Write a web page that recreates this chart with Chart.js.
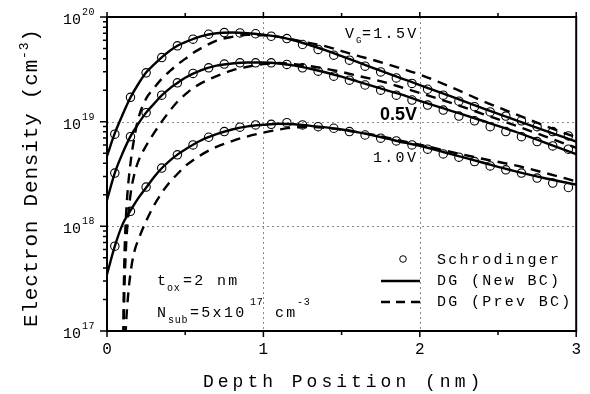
<!DOCTYPE html>
<html>
<head>
<meta charset="utf-8">
<script src="https://cdn.jsdelivr.net/npm/chart.js@4.4.1/dist/chart.umd.min.js"></script>
<style>
  html, body { margin: 0; padding: 0; background: #fff; }
</style>
</head>
<body>
<canvas id="chart" width="590" height="394"></canvas>
<script>
// Schrodinger solution (circles), depth in nm
const schX = [0.05, 0.15, 0.25, 0.35, 0.45, 0.55, 0.65, 0.75, 0.85, 0.95,
              1.05, 1.15, 1.25, 1.35, 1.45, 1.55, 1.65, 1.75, 1.85, 1.95,
              2.05, 2.15, 2.25, 2.35, 2.45, 2.55, 2.65, 2.75, 2.85, 2.95];
const schTop = [7.6e18, 1.71e19, 2.93e19, 4.1e19, 5.3e19, 6.14e19, 6.84e19, 7.1e19, 7.05e19, 6.92e19,
                6.55e19, 6.22e19, 5.46e19, 4.9e19, 4.32e19, 3.87e19, 3.39e19, 2.99e19, 2.62e19, 2.32e19,
                2.04e19, 1.79e19, 1.57e19, 1.39e19, 1.24e19, 1.13e19, 1.02e19, 8.95e18, 8.04e18, 7.31e18];
const schMid = [3.23e18, 7.19e18, 1.22e19, 1.79e19, 2.35e19, 2.89e19, 3.27e19, 3.55e19, 3.65e19, 3.65e19,
                3.65e19, 3.52e19, 3.27e19, 3.04e19, 2.72e19, 2.49e19, 2.24e19, 2.0e19, 1.79e19, 1.61e19,
                1.44e19, 1.29e19, 1.13e19, 1.02e19, 8.95e18, 8.04e18, 7.19e18, 6.46e18, 5.87e18, 5.46e18];
const schLow = [6.46e17, 1.39e18, 2.37e18, 3.6e18, 4.82e18, 6.0e18, 7.1e18, 8.04e18, 8.85e18, 9.31e18,
                9.44e18, 9.77e18, 9.31e18, 8.95e18, 8.65e18, 8.04e18, 7.46e18, 6.95e18, 6.55e18, 6.0e18,
                5.46e18, 4.92e18, 4.58e18, 4.16e18, 3.78e18, 3.47e18, 3.23e18, 2.89e18, 2.59e18, 2.35e18];

// DG with new boundary condition (solid)
const newX = [0, 0.05, 0.1, 0.15, 0.2, 0.25, 0.3, 0.35, 0.4, 0.45, 0.5, 0.6, 0.7, 0.8, 0.9, 1.0,
              1.1, 1.2, 1.3, 1.4, 1.5, 1.6, 1.7, 1.8, 1.9, 2.0, 2.2, 2.4, 2.6, 2.8, 3.0];
const newTop = [4.68e18, 7.76e18, 1.17e19, 1.70e19, 2.29e19, 2.95e19, 3.51e19, 4.12e19, 4.73e19, 5.31e19, 5.75e19,
                6.53e19, 7.0e19, 7.11e19, 7.0e19, 6.76e19, 6.46e19, 5.96e19, 5.37e19, 4.79e19, 4.22e19,
                3.72e19, 3.27e19, 2.88e19, 2.54e19, 2.24e19, 1.74e19, 1.35e19, 1.05e19, 8.22e18, 6.46e18];
const newMid = [1.78e18, 3.24e18, 5.01e18, 7.24e18, 9.55e18, 1.22e19, 1.48e19, 1.78e19, 2.07e19, 2.34e19, 2.63e19,
                3.09e19, 3.43e19, 3.59e19, 3.67e19, 3.67e19, 3.59e19, 3.43e19, 3.2e19, 2.95e19, 2.69e19,
                2.43e19, 2.19e19, 1.97e19, 1.78e19, 1.58e19, 1.27e19, 1.02e19, 8.13e18, 6.31e18, 4.9e18];
const newLow = [3.47e17, 6.46e17, 1.05e18, 1.41e18, 1.86e18, 2.34e18, 2.95e18, 3.59e18, 4.22e18, 4.84e18, 5.43e18,
                6.61e18, 7.59e18, 8.41e18, 9.02e18, 9.33e18, 9.55e18, 9.44e18, 9.12e18, 8.81e18, 8.41e18,
                7.94e18, 7.41e18, 6.84e18, 6.31e18, 5.89e18, 4.9e18, 4.07e18, 3.39e18, 2.88e18, 2.51e18];

// DG with previous boundary condition (dashed), density vanishes at ~0.1 nm
const prevX = [0.1, 0.105, 0.11, 0.12, 0.13, 0.15, 0.175, 0.2, 0.25, 0.3, 0.35, 0.4, 0.45, 0.5, 0.55, 0.6,
               0.7, 0.8, 0.9, 1.0, 1.1, 1.2, 1.3, 1.4, 1.5, 1.6, 1.7, 1.8, 1.9, 2.0, 2.2, 2.4, 2.6, 2.8, 3.0];
const prevTop = [1e15, 1.0e17, 3.98e17, 1.12e18, 2.0e18, 3.98e18, 7.08e18, 1.07e19, 1.66e19, 2.09e19, 2.57e19,
                 3.02e19, 3.51e19, 3.98e19, 4.52e19, 5.01e19, 5.96e19, 6.46e19, 6.76e19, 6.68e19, 6.46e19,
                 6.03e19, 5.62e19, 5.25e19, 4.73e19, 4.27e19, 3.89e19, 3.51e19, 3.16e19, 2.82e19, 2.14e19,
                 1.58e19, 1.2e19, 9.12e18, 7.08e18];
const prevMid = [1e15, 6.31e16, 2.0e17, 5.62e17, 1.0e18, 2.0e18, 3.16e18, 4.17e18, 5.89e18, 7.76e18, 1.0e19,
                 1.26e19, 1.55e19, 1.82e19, 2.09e19, 2.32e19, 2.72e19, 3.09e19, 3.35e19, 3.55e19, 3.63e19,
                 3.55e19, 3.39e19, 3.2e19, 2.99e19, 2.75e19, 2.54e19, 2.32e19, 2.09e19, 1.88e19, 1.51e19,
                 1.19e19, 9.33e18, 7.24e18, 5.62e18];
const prevLow = [1e15, 6.31e15, 3.16e16, 1.0e17, 1.78e17, 3.55e17, 5.75e17, 7.41e17, 1.12e18, 1.58e18, 2.09e18,
                 2.63e18, 3.16e18, 3.76e18, 4.27e18, 4.79e18, 5.75e18, 6.53e18, 7.24e18, 7.85e18, 8.41e18,
                 8.81e18, 8.91e18, 8.71e18, 8.41e18, 7.94e18, 7.5e18, 7.0e18, 6.46e18, 6.03e18, 5.13e18,
                 4.42e18, 3.85e18, 3.24e18, 2.69e18];

// axes
const xTicks = [0, 1, 2, 3];
const xMinor = [0.5, 1.5, 2.5];
const yTicks = [1e17, 1e18, 1e19, 1e20];
const yMinorMult = [2, 3, 4, 5, 6, 7, 8, 9];
const legendLabels = ['Schrodinger', 'DG (New BC)', 'DG (Prev BC)'];

const MONO = '"Liberation Mono", "DejaVu Sans Mono", monospace';

const pts = (xs, ys) => xs.map((x, i) => ({ x: x, y: ys[i] }));

function circles(label, ys) {
  return {
    label: label, data: pts(schX, ys), showLine: false,
    pointStyle: 'circle', pointRadius: 4.2, pointBorderWidth: 1.1,
    pointBorderColor: '#000', pointBackgroundColor: 'rgba(0,0,0,0)'
  };
}
function curve(label, xs, ys, dashed) {
  return {
    label: label, data: pts(xs, ys), showLine: true, pointRadius: 0,
    borderColor: '#000', borderWidth: 2.4, borderDash: dashed ? [10, 7] : [],
    cubicInterpolationMode: 'monotone', capBezierPoints: false, fill: false
  };
}

function text(ctx, s, x, y, size, ls, family, bold) {
  ctx.font = (bold ? 'bold ' : '') + size + 'px ' + (family || MONO);
  ctx.letterSpacing = (ls || 0) + 'px';
  ctx.fillText(s, x, y);
}

const decor = {
  id: 'decor',
  beforeDatasetsDraw(chart) {
    const { ctx, chartArea: a, scales: { x, y } } = chart;
    ctx.save();
    ctx.strokeStyle = '#8a8a8a';
    ctx.lineWidth = 1;
    ctx.setLineDash([2, 3]);
    ctx.beginPath();
    xTicks.slice(1, -1).forEach(v => {
      const px = Math.round(x.getPixelForValue(v)) + 0.5;
      ctx.moveTo(px, a.top); ctx.lineTo(px, a.bottom);
    });
    yTicks.slice(1, -1).forEach(v => {
      const py = Math.round(y.getPixelForValue(v)) + 0.5;
      ctx.moveTo(a.left, py); ctx.lineTo(a.right, py);
    });
    ctx.stroke();
    ctx.restore();
  },
  afterDraw(chart) {
    const { ctx, chartArea: a, scales: { x, y } } = chart;
    ctx.save();
    // frame
    ctx.strokeStyle = '#000';
    ctx.lineWidth = 2;
    ctx.strokeRect(a.left, a.top, a.right - a.left, a.bottom - a.top);
    // tick marks (outward)
    ctx.lineWidth = 1.5;
    ctx.beginPath();
    xTicks.forEach(v => {
      const px = x.getPixelForValue(v);
      ctx.moveTo(px, a.bottom); ctx.lineTo(px, a.bottom + 6);
      ctx.moveTo(px, a.top); ctx.lineTo(px, a.top - 5);
    });
    xMinor.forEach(v => {
      const px = x.getPixelForValue(v);
      ctx.moveTo(px, a.bottom); ctx.lineTo(px, a.bottom + 4);
      ctx.moveTo(px, a.top); ctx.lineTo(px, a.top - 4);
    });
    yTicks.forEach((v, i) => {
      const py = y.getPixelForValue(v);
      ctx.moveTo(a.left, py); ctx.lineTo(a.left - 7, py);
      if (i < yTicks.length - 1) {
        yMinorMult.forEach(m => {
          const qy = y.getPixelForValue(v * m);
          ctx.moveTo(a.left, qy); ctx.lineTo(a.left - 4, qy);
        });
      }
    });
    ctx.stroke();

    ctx.fillStyle = '#000';
    ctx.textBaseline = 'alphabetic';
    // y tick labels 10^n
    yTicks.forEach(v => {
      const py = y.getPixelForValue(v);
      ctx.textAlign = 'right';
      text(ctx, '10', 81, py + 7, 15, 0);
      ctx.textAlign = 'left';
      text(ctx, String(Math.round(Math.log10(v))), 82, py - 2, 10, 0.5);
    });
    ctx.textAlign = 'left';

    // axis titles
    text(ctx, 'Depth Position (nm)', 203, 387, 18, 4);
    ctx.save();
    ctx.translate(37, 327);
    ctx.rotate(-Math.PI / 2);
    text(ctx, 'Electron Density (cm', 0, 0, 21, 0.8);
    let w = ctx.measureText('Electron Density (cm').width;
    text(ctx, '-3', w, -9, 13, 0.8);
    const w2 = ctx.measureText('-3').width;
    text(ctx, ')', w + w2, 0, 21, 0.8);
    ctx.restore();

    // curve labels
    text(ctx, 'V', 345, 38, 15, 2.3);
    text(ctx, 'G', 356, 43, 9, 0);
    text(ctx, '=1.5V', 362, 38, 15, 2.3);
    text(ctx, '0.5V', 380, 120, 18, 0, '"Liberation Sans", Arial, sans-serif', true);
    text(ctx, '1.0V', 373, 162, 15, 2.3);

    // device parameters
    text(ctx, 't', 157, 285, 15, 2.3);
    text(ctx, 'ox', 167, 291, 10, 0.7);
    text(ctx, '=2 nm', 183, 285, 15, 2.3);
    text(ctx, 'N', 157, 317, 15, 2.3);
    text(ctx, 'sub', 168, 323, 10, 0.7);
    text(ctx, '=5x10', 190, 317, 15, 2.3);
    text(ctx, '17', 250, 305, 10, 0.7);
    text(ctx, 'cm', 275, 317, 15, 2.3);
    text(ctx, '-3', 297, 305, 10, 0.7);

    // legend
    ctx.lineWidth = 1;
    ctx.beginPath();
    ctx.arc(403, 259, 3.3, 0, Math.PI * 2);
    ctx.stroke();
    ctx.lineWidth = 2.4;
    ctx.beginPath();
    ctx.moveTo(381, 281); ctx.lineTo(420, 281);
    ctx.stroke();
    ctx.setLineDash([9, 6]);
    ctx.beginPath();
    ctx.moveTo(381, 302); ctx.lineTo(422, 302);
    ctx.stroke();
    ctx.setLineDash([]);
    text(ctx, legendLabels[0], 437, 264, 15, 2.3);
    text(ctx, legendLabels[1], 437, 285, 15, 2.3);
    text(ctx, legendLabels[2], 437, 306, 15, 2.3);
    ctx.restore();
  }
};

new Chart(document.getElementById('chart'), {
  type: 'scatter',
  data: {
    datasets: [
      circles('Schrodinger 1.5V', schTop),
      circles('Schrodinger 0.5V', schMid),
      circles('Schrodinger 1.0V', schLow),
      curve('DG (New BC) 1.5V', newX, newTop, false),
      curve('DG (New BC) 0.5V', newX, newMid, false),
      curve('DG (New BC) 1.0V', newX, newLow, false),
      curve('DG (Prev BC) 1.5V', prevX, prevTop, true),
      curve('DG (Prev BC) 0.5V', prevX, prevMid, true),
      curve('DG (Prev BC) 1.0V', prevX, prevLow, true)
    ]
  },
  options: {
    responsive: false,
    animation: false,
    layout: { padding: { top: 17, right: 11, left: 0, bottom: 0 } },
    plugins: { legend: { display: false }, tooltip: { enabled: false } },
    scales: {
      x: {
        type: 'linear', min: 0, max: 3,
        afterBuildTicks: s => { s.ticks = xTicks.map(v => ({ value: v })); },
        afterFit: s => { s.height = 63; },
        grid: { display: false, drawTicks: false },
        border: { display: false },
        ticks: { color: '#000', padding: 9, font: { family: MONO, size: 16 } }
      },
      y: {
        type: 'logarithmic', min: 1e17, max: 1e20,
        afterBuildTicks: s => { s.ticks = yTicks.map(v => ({ value: v })); },
        afterFit: s => { s.width = 107; },
        grid: { display: false, drawTicks: false },
        border: { display: false },
        ticks: { display: false }
      }
    }
  },
  plugins: [decor]
});
</script>
</body>
</html>
